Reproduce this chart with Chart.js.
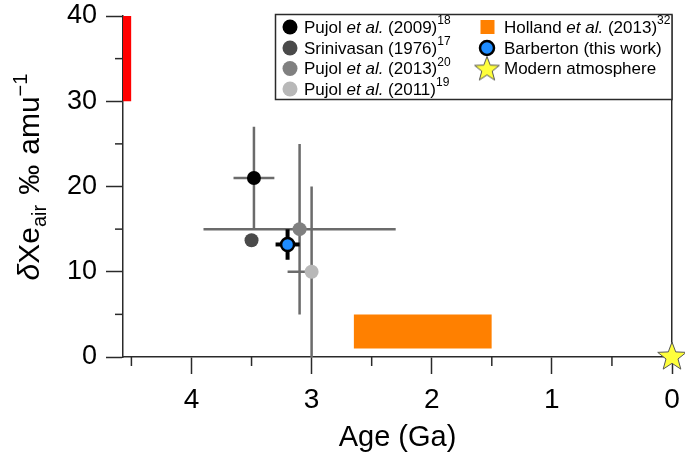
<!DOCTYPE html>
<html>
<head>
<meta charset="utf-8">
<script src="https://cdn.jsdelivr.net/npm/chart.js@4/dist/chart.umd.min.js"></script>
<style>
  html, body { margin: 0; padding: 0; background: #fff; }
</style>
</head>
<body>
<canvas id="chart" width="685" height="453"></canvas>
<script>
// --- Data ---
const studies = ["Pujol et al. (2009)", "Srinivasan (1976)", "Pujol et al. (2013)", "Pujol et al. (2011)", "Barberton (this work)"];
const refs = ["18", "17", "20", "19", ""];
const ages = [3.48, 3.5, 3.1, 3.0, 3.2];          // Ga
const deltaXe = [21, 13.7, 15, 10, 13.2];         // permil per amu
const ageErrOlder = [0.17, 0, 0.8, 0.2, 0.1];
const ageErrYounger = [0.17, 0, 0.8, 0, 0.1];
const xeErr = [6, 0, 10, 10, 1.8];

const hollandLabel = "Holland et al. (2013)";
const hollandRef = "32";
const hollandAge = [1.5, 2.65];
const hollandXe = [1, 5];

const earlyAge = [4.5, 4.6];
const earlyXe = [30, 40];

const modernLabel = "Modern atmosphere";
const modernAge = [0];
const modernXe = [0];

const ageLabels = [4, 3, 2, 1, 0];
const xeLabels = [0, 10, 20, 30, 40];

// --- Styles ---
const FONT = "'Liberation Sans', Arial, Helvetica, sans-serif";
const markerColors = ["#000000", "#4a4a4a", "#808080", "#b8b8b8", "#1e8cff"];
const errColor = "#6b6b6b";
const axisColor = "#2a2a2a";
const orange = "#ff8000";
const red = "#ff0000";

Chart.defaults.font.family = FONT;
Chart.defaults.color = "#000";

function starCanvas(R) {
  const s = Math.ceil(2 * R + 4);
  const c = document.createElement("canvas");
  c.width = s; c.height = s;
  const g = c.getContext("2d");
  g.beginPath();
  for (let k = 0; k < 10; k++) {
    const r = k % 2 ? R * 0.42 : R;
    const a = -Math.PI / 2 + k * Math.PI / 5;
    g.lineTo(s / 2 + r * Math.cos(a), s / 2 + r * Math.sin(a));
  }
  g.closePath();
  g.fillStyle = "#ffff3c";
  g.fill();
  g.lineWidth = 1;
  g.strokeStyle = "#555";
  g.stroke();
  return c;
}

// --- Datasets ---
const datasets = [];

// markers (order 0 = on top)
studies.forEach((s, i) => {
  const isOurs = i === 4;
  datasets.push({
    type: "scatter",
    label: s,
    data: [{ x: ages[i], y: deltaXe[i] }],
    pointRadius: isOurs ? 6.5 : 7,
    pointBackgroundColor: markerColors[i],
    pointBorderColor: isOurs ? "#000" : markerColors[i],
    pointBorderWidth: isOurs ? 2.5 : 0,
    order: 0
  });
});

datasets.push({
  type: "scatter",
  label: modernLabel,
  data: modernAge.map((a, i) => ({ x: a, y: modernXe[i] })),
  pointStyle: starCanvas(15),
  pointRadius: 15,
  clip: false,
  order: 0
});

// error bars
function segment(pts, color, width, order) {
  return {
    type: "line",
    data: pts,
    borderColor: color,
    borderWidth: width,
    borderCapStyle: "butt",
    pointRadius: 0,
    fill: false,
    order: order
  };
}
studies.forEach((s, i) => {
  const isOurs = i === 4;
  const col = isOurs ? "#000" : errColor;
  const w = isOurs ? 4 : 2.5;
  const ord = isOurs ? 1 : 2;
  if (ageErrOlder[i] || ageErrYounger[i]) {
    datasets.push(segment([
      { x: ages[i] + ageErrOlder[i], y: deltaXe[i] },
      { x: ages[i] - ageErrYounger[i], y: deltaXe[i] }
    ], col, w, ord));
  }
  if (xeErr[i]) {
    datasets.push(segment([
      { x: ages[i], y: deltaXe[i] + xeErr[i] },
      { x: ages[i], y: deltaXe[i] - xeErr[i] }
    ], col, w, ord));
  }
});

// boxes
function box(xs, ys, color) {
  return {
    type: "line",
    data: [{ x: xs[0], y: ys[1] }, { x: xs[1], y: ys[1] }],
    borderColor: "rgba(0,0,0,0)",
    borderWidth: 0,
    pointRadius: 0,
    fill: { target: { value: ys[0] }, above: color, below: color },
    order: 3
  };
}
datasets.push(box(hollandAge, hollandXe, orange));
datasets.push(box(earlyAge, earlyXe, red));

// --- Plugins ---
function drawRich(ctx, parts, x, y) {
  parts.forEach(p => {
    ctx.font = (p.it ? "italic " : "") + p.size + "px " + FONT;
    ctx.fillText(p.t, x, y + (p.dy || 0));
    x += ctx.measureText(p.t).width;
  });
  return x;
}
function richWidth(ctx, parts) {
  let w = 0;
  parts.forEach(p => {
    ctx.font = (p.it ? "italic " : "") + p.size + "px " + FONT;
    w += ctx.measureText(p.t).width;
  });
  return w;
}
function legendParts(name, ref) {
  const size = 17;
  const parts = [];
  const k = name.indexOf("et al.");
  if (k >= 0) {
    parts.push({ t: name.slice(0, k), size });
    parts.push({ t: "et al.", size, it: true });
    parts.push({ t: name.slice(k + 6), size });
  } else {
    parts.push({ t: name, size });
  }
  if (ref) parts.push({ t: ref, size: 12, dy: -7 });
  return parts;
}

const minorTicks = {
  id: "minorTicks",
  afterDraw(chart) {
    const ctx = chart.ctx;
    const { left, bottom } = chart.chartArea;
    ctx.save();
    ctx.strokeStyle = axisColor;
    ctx.lineWidth = 1.5;
    chart.scales.y.ticks.forEach(t => {
      if (xeLabels.includes(t.value)) return;
      const py = chart.scales.y.getPixelForValue(t.value);
      ctx.beginPath(); ctx.moveTo(left - 8, py); ctx.lineTo(left, py); ctx.stroke();
    });
    chart.scales.x.ticks.forEach(t => {
      if (ageLabels.includes(t.value)) return;
      const px = chart.scales.x.getPixelForValue(t.value);
      ctx.beginPath(); ctx.moveTo(px, bottom); ctx.lineTo(px, bottom + 9); ctx.stroke();
    });
    ctx.restore();
  }
};

const legendBox = {
  id: "legendBox",
  afterDraw(chart) {
    const ctx = chart.ctx;
    const right = chart.chartArea.right;
    ctx.save();
    ctx.fillStyle = "#fff";
    ctx.fillRect(275, 14, right - 275, 86);
    ctx.strokeStyle = axisColor;
    ctx.lineWidth = 1.5;
    ctx.strokeRect(275.5, 14.5, right - 275.5, 85);

    const rows = [27, 48, 68.5, 89];
    ctx.textBaseline = "middle";
    ctx.fillStyle = "#000";
    // left column: literature points
    for (let i = 0; i < 4; i++) {
      ctx.beginPath();
      ctx.arc(290, rows[i], 7.5, 0, Math.PI * 2);
      ctx.fillStyle = markerColors[i];
      ctx.fill();
      ctx.fillStyle = "#000";
      drawRich(ctx, legendParts(studies[i], refs[i]), 304, rows[i] + 1);
    }
    // right column
    ctx.fillStyle = orange;
    ctx.fillRect(480.5, rows[0] - 7, 14, 14);
    ctx.fillStyle = "#000";
    drawRich(ctx, legendParts(hollandLabel, hollandRef), 504, rows[0] + 1);

    ctx.beginPath();
    ctx.arc(487, rows[1], 7, 0, Math.PI * 2);
    ctx.fillStyle = markerColors[4];
    ctx.fill();
    ctx.lineWidth = 2.5;
    ctx.strokeStyle = "#000";
    ctx.stroke();
    ctx.fillStyle = "#000";
    drawRich(ctx, legendParts(studies[4], refs[4]), 504, rows[1] + 1);

    const st = starCanvas(13);
    ctx.drawImage(st, 487 - st.width / 2, rows[2] + 1 - st.height / 2);
    ctx.fillStyle = "#000";
    drawRich(ctx, legendParts(modernLabel, ""), 504, rows[2] + 1);
    ctx.restore();
  }
};

const yTitle = {
  id: "yTitle",
  afterDraw(chart) {
    const ctx = chart.ctx;
    const parts = [
      { t: "\u03B4", size: 30, it: true },
      { t: "Xe", size: 30 },
      { t: "air", size: 20, dy: 7 },
      { t: "\u2004\u2030\u2004amu", size: 30 },
      { t: "\u22121", size: 20, dy: -12 }
    ];
    ctx.save();
    ctx.translate(39, 177);
    ctx.rotate(-Math.PI / 2);
    ctx.fillStyle = "#000";
    ctx.textBaseline = "alphabetic";
    const w = richWidth(ctx, parts);
    drawRich(ctx, parts, -w / 2, 0);
    ctx.restore();
  }
};

// --- Chart ---
new Chart(document.getElementById("chart"), {
  type: "scatter",
  data: { datasets },
  options: {
    responsive: false,
    animation: false,
    events: [],
    layout: { autoPadding: false, padding: { top: 16, left: 0, right: 0, bottom: 0 } },
    plugins: { legend: { display: false }, tooltip: { enabled: false } },
    scales: {
      x: {
        type: "linear",
        position: "bottom",
        reverse: true,
        min: 0,
        max: 4.57,
        ticks: {
          stepSize: 0.5,
          includeBounds: false,
          autoSkip: false,
          maxRotation: 0,
          padding: 9,
          font: { size: 28 },
          callback: v => ageLabels.includes(v) ? String(v) : ""
        },
        grid: {
          drawOnChartArea: false,
          tickLength: 17,
          tickWidth: 1.5,
          tickColor: c => ageLabels.includes(c.tick.value) ? axisColor : "rgba(0,0,0,0)"
        },
        border: { color: axisColor, width: 1.5 },
        title: { display: true, text: "Age (Ga)", font: { size: 29 }, padding: { top: 0, bottom: -2 } },
        afterFit: s => { s.height = 96; s.paddingLeft = 0; s.paddingRight = 0; }
      },
      y: {
        type: "linear",
        position: "left",
        min: 0,
        max: 40,
        ticks: {
          stepSize: 5,
          autoSkip: false,
          padding: 9,
          font: { size: 27 },
          callback: v => xeLabels.includes(v) ? String(v) : ""
        },
        grid: {
          drawOnChartArea: false,
          tickLength: 17,
          tickWidth: 1.5,
          tickColor: c => xeLabels.includes(c.tick.value) ? axisColor : "rgba(0,0,0,0)"
        },
        border: { color: axisColor, width: 1.5 },
        afterFit: s => { s.width = 123; s.paddingTop = 0; s.paddingBottom = 0; }
      },
      yRight: {
        type: "linear",
        axis: "y",
        position: "right",
        min: 0,
        max: 40,
        ticks: { display: false },
        grid: { drawOnChartArea: false, drawTicks: false },
        border: { color: axisColor, width: 1.5 },
        afterFit: s => { s.width = 13; s.paddingTop = 0; s.paddingBottom = 0; }
      }
    }
  },
  plugins: [minorTicks, legendBox, yTitle]
});
</script>
</body>
</html>
